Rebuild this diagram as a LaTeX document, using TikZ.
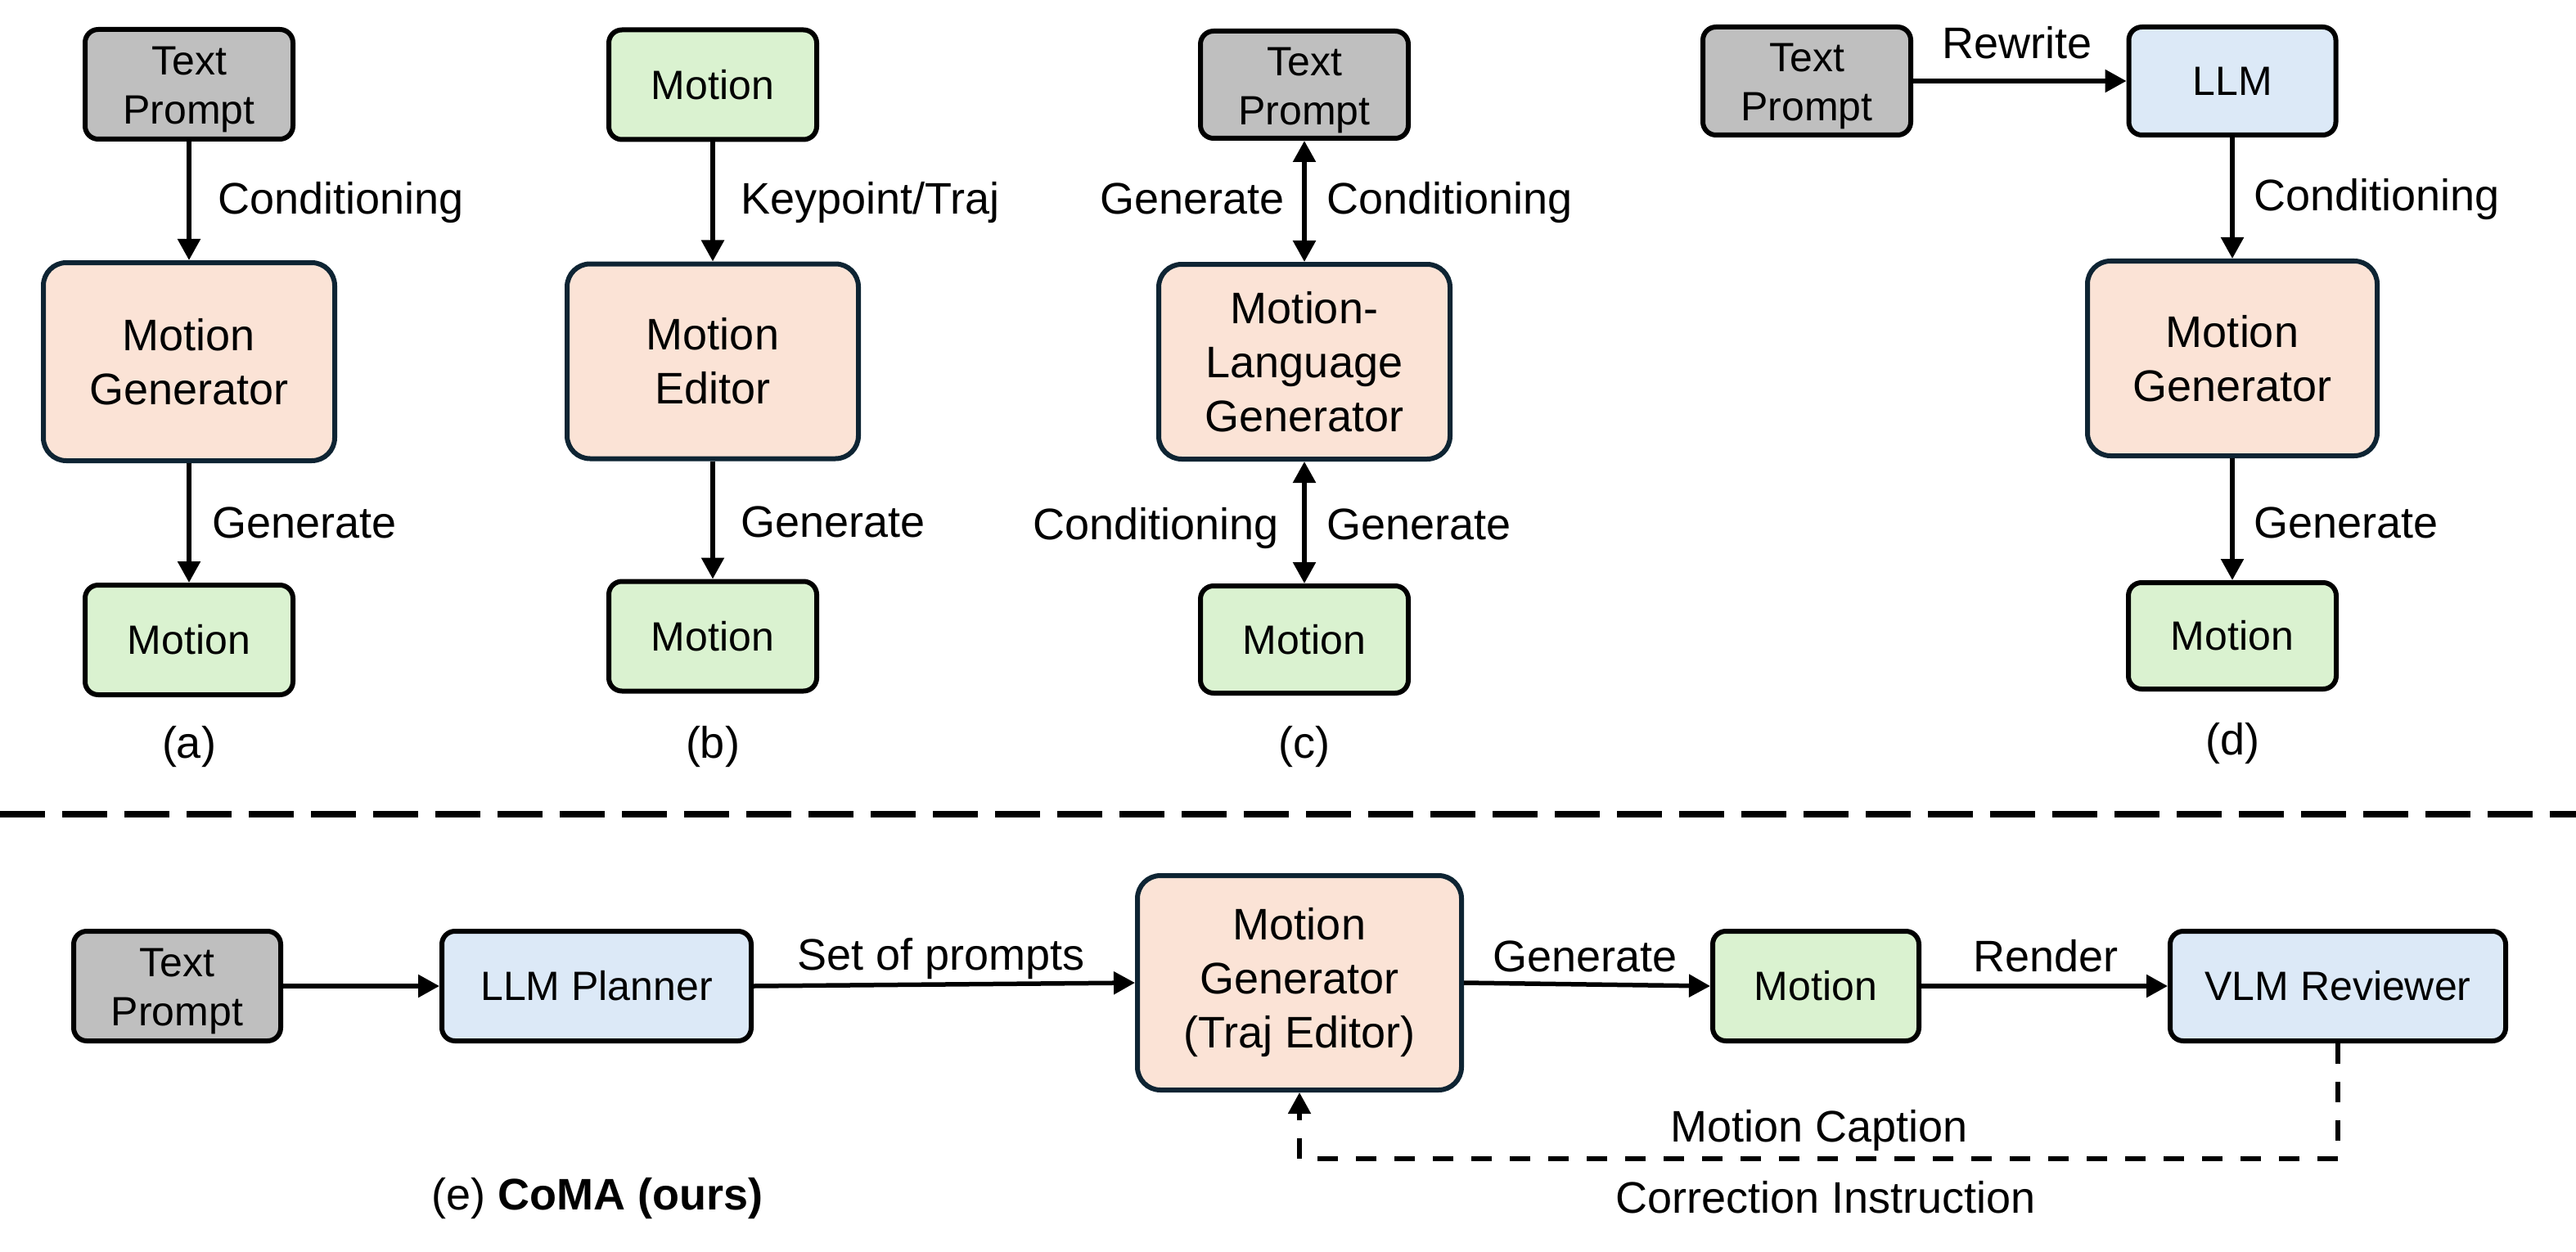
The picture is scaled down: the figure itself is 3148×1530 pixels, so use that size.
\documentclass[tikz,border=0pt]{standalone}
\usepackage{fontspec}
\setmainfont{Liberation Sans}
\usetikzlibrary{arrows.meta}
\definecolor{cgrey}{HTML}{BFBFBF}
\definecolor{cgreen}{HTML}{DAF2D0}
\definecolor{cpink}{HTML}{FBE3D6}
\definecolor{cblue}{HTML}{DCE9F7}
\definecolor{cnavy}{HTML}{0E2433}
\newcommand\fszA{\fontsize{25pt}{30pt}\selectfont}
\newcommand\fszB{\fontsize{27pt}{33pt}\selectfont}
\newcommand\tpraise{\rule{0pt}{24pt}}
\tikzset{
  box/.style={draw=black, line width=3pt, rounded corners=8pt, inner sep=0pt, align=center, font=\fszA},
  smallbox/.style={box, minimum width=127pt, minimum height=67pt},
  tpbox/.style={smallbox, fill=cgrey},
  mobox/.style={smallbox, fill=cgreen},
  llmbox/.style={box, fill=cblue, minimum height=67pt},
  genbox/.style={box, draw=cnavy, fill=cpink, rounded corners=14pt, font=\fszB, minimum width=178pt, minimum height=119pt},
  lbl/.style={font=\fszB, inner sep=0pt},
  tipT/.tip={Triangle[width=13.5pt,length=13pt]},
  arr/.style={line width=2.75pt, -tipT},
  darr/.style={line width=2.75pt, tipT-tipT},
  fbarr/.style={line width=2.6pt, dash pattern=on 12.5pt off 11pt, -tipT},
  sep/.style={line width=4pt, dash pattern=on 27.5pt off 10.5pt}
}
\begin{document}
\begin{tikzpicture}[x=0.5pt,y=-0.5pt]
\useasboundingbox (0,0) rectangle (3148,1530);

% ---------- (a)
\node[tpbox] (tpA) at (231,103) {\tpraise Text\\Prompt};
\node[genbox, minimum height=121pt] (genA) at (231,442) {Motion\\Generator};
\node[mobox] (motA) at (231,782) {Motion};
\draw[arr] (tpA.south) -- (genA.north);
\draw[arr] (genA.south) -- (motA.north);
\node[lbl, anchor=base west] (lA1) at (266,262) {Conditioning};
\node[lbl, anchor=base west] (lA2) at (259,657) {Generate};
\node[lbl, anchor=base] (capA) at (231,926) {(a)};

% ---------- (b)
\node[mobox] (motB1) at (871,103.5) {Motion};
\node[genbox] (genB) at (871,441.5) {Motion\\Editor};
\node[mobox] (motB2) at (871,777.5) {Motion};
\draw[arr] (motB1.south) -- (genB.north);
\draw[arr] (genB.south) -- (motB2.north);
\node[lbl, anchor=base west] (lB1) at (905,262) {Keypoint/Traj};
\node[lbl, anchor=base west] (lB2) at (905,656) {Generate};
\node[lbl, anchor=base] (capB) at (871,926) {(b)};

% ---------- (c)
\node[tpbox, minimum height=65.5pt] (tpC) at (1594,103.5) {\tpraise Text\\Prompt};
\node[genbox] (genC) at (1594,442) {Motion-\\Language\\Generator};
\node[mobox, minimum height=65.5pt] (motC) at (1594,781.5) {Motion};
\draw[darr] (tpC.south) -- (genC.north);
\draw[darr] (genC.south) -- (motC.north);
\node[lbl, anchor=base east] (lC1) at (1570,262) {Generate};
\node[lbl, anchor=base west] (lC2) at (1621,262) {Conditioning};
\node[lbl, anchor=base east] (lC3) at (1563,659) {Conditioning};
\node[lbl, anchor=base west] (lC4) at (1621,659) {Generate};
\node[lbl, anchor=base] (capC) at (1594,926) {(c)};

% ---------- (d)
\node[tpbox, minimum height=66pt] (tpD) at (2208,99) {\tpraise Text\\Prompt};
\node[llmbox, minimum width=126.5pt, minimum height=66pt] (llmD) at (2728,99) {LLM};
\node[genbox, minimum width=177pt] (genD) at (2728,438) {Motion\\Generator};
\node[mobox, minimum height=65pt] (motD) at (2728,777) {Motion};
\draw[arr] (tpD.east) -- (llmD.west);
\draw[arr] (llmD.south) -- (genD.north);
\draw[arr] (genD.south) -- (motD.north);
\node[lbl, anchor=base] (lD0) at (2465,72) {Rewrite};
\node[lbl, anchor=base west] (lD1) at (2754,258) {Conditioning};
\node[lbl, anchor=base west] (lD2) at (2754,657) {Generate};
\node[lbl, anchor=base] (capD) at (2728,922) {(d)};

% ---------- separator
\coordinate (sepL) at (0,995);
\coordinate (sepR) at (3148,995);
\draw[sep] (sepL) -- (sepR);

% ---------- (e)
\node[tpbox, minimum width=126.5pt] (tpE) at (216.5,1205) {\tpraise Text\\Prompt};
\node[llmbox, minimum width=189pt] (llmE) at (729,1205) {LLM Planner};
\node[genbox, minimum width=198pt, minimum height=131pt] (genE) at (1588,1201) {Motion\\Generator\\(Traj Editor)};
\node[mobox, minimum width=126pt] (motE) at (2219,1205) {Motion};
\node[llmbox, minimum width=205pt] (vlmE) at (2857,1205) {VLM Reviewer};
\draw[arr] (tpE.east) -- (llmE.west);
\draw[arr] (llmE.east) -- (genE.west);
\draw[arr] (genE.east) -- (motE.west);
\draw[arr] (motE.east) -- (vlmE.west);
\draw[fbarr] (vlmE.south) -- ++(0,141) -| (genE.south);
\node[lbl, anchor=base] (lE1) at (1150,1185) {Set of prompts};
\node[lbl, anchor=base] (lE2) at (1937,1187) {Generate};
\node[lbl, anchor=base] (lE3) at (2500,1187) {Render};
\node[lbl, anchor=base] (lE4) at (2223,1395) {Motion Caption};
\node[lbl, anchor=base] (lE5) at (2231,1482) {Correction Instruction};
\node[lbl, anchor=base] (capE) at (730,1478) {(e) \textbf{CoMA (ours)}};
\end{tikzpicture}
\end{document}
